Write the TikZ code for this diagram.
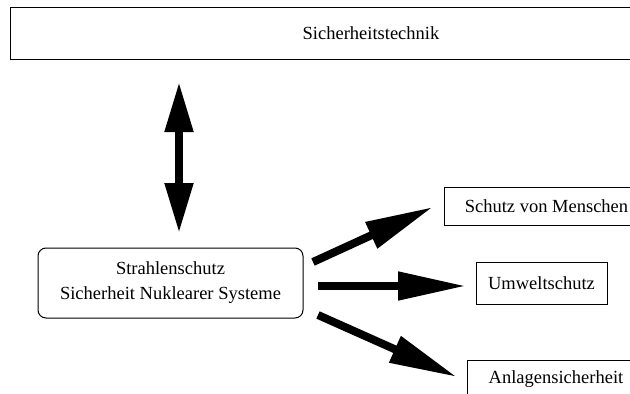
\documentclass[tikz,border=0pt]{standalone}
\usepackage{fontspec}
\setmainfont{Liberation Serif}
\usetikzlibrary{arrows.meta}

\tikzset{
  labelfont/.style={font=\fontsize{18.5}{25}\selectfont, align=center},
  plainbox/.style={draw, line width=1pt, labelfont, inner sep=0pt},
  roundbox/.style={plainbox, rounded corners=8pt},
  bigarrow/.style={line width=8pt, -{Triangle[length=68pt,width=27pt]}},
  twoway/.style={line width=8pt,
    {Triangle[length=50pt,width=27pt]}-{Triangle[length=50pt,width=27pt]}},
}

\begin{document}
\begin{tikzpicture}[x=1pt, y=-1pt]
  \useasboundingbox (0,0) rectangle (630,394);
  \clip (0,0) rectangle (630,394);
  \fill[white] (0,0) rectangle (630,394);

  % boxes
  \node[plainbox, minimum width=722pt, minimum height=52pt] (technik) at (371,33) {Sicherheitstechnik};
  \node[roundbox, minimum width=265pt, minimum height=70pt] (strahlen) at (170.5,283)
    {Strahlenschutz\\Sicherheit Nuklearer Systeme};
  \node[plainbox, minimum width=205pt, minimum height=38pt] (menschen) at (546.5,206) {Schutz von Menschen};
  \node[plainbox, minimum width=131pt, minimum height=42pt] (umwelt) at (541.5,283) {Umweltschutz};
  \node[plainbox, minimum width=178pt, minimum height=38pt] (anlagen) at (556,379) {Anlagensicherheit};

  % arrow end points
  \coordinate (up)    at (179,82);
  \coordinate (down)  at (179,233);
  \coordinate (s1)    at (313,262);
  \coordinate (t1)    at (433,207);
  \coordinate (s2)    at (318,286);
  \coordinate (t2)    at (466,286);
  \coordinate (s3)    at (318,315);
  \coordinate (t3)    at (457,377);

  % arrows
  \draw[twoway] (up) -- (down);
  \draw[bigarrow] (s1) -- (t1);
  \draw[bigarrow] (s2) -- (t2);
  \draw[bigarrow] (s3) -- (t3);
\end{tikzpicture}
\end{document}
